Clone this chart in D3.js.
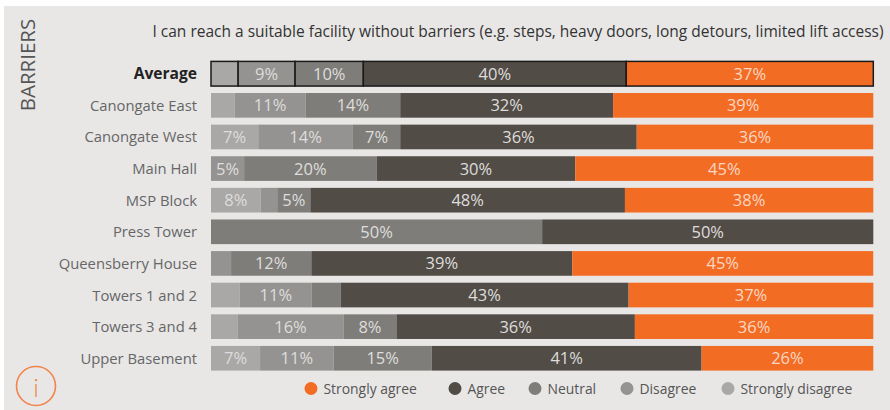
<!DOCTYPE html>
<html><head><meta charset="utf-8">
<script src="https://cdn.jsdelivr.net/npm/d3@7"></script>
<style>
html,body{margin:0;padding:0;background:#fff;}
svg{display:block;}
text{font-family:"Open Sans",sans-serif;}
</style></head><body><svg id="c" width="890" height="410"></svg>
<script>
const categories=["Average","Canongate East","Canongate West","Main Hall","MSP Block","Press Tower","Queensberry House","Towers 1 and 2","Towers 3 and 4","Upper Basement"];
const stackKeys=["Strongly disagree","Disagree","Neutral","Agree","Strongly agree"];
const stronglyDisagree=[4.1,3.57,7.14,0,7.5,0,0,4.35,4,7.41];
const disagree=[8.6,10.71,14.29,5,2.5,0,3.03,10.87,16,11.11];
const neutral=[10.3,14.29,7.14,20,5,50,12.12,4.35,8,14.81];
const agree=[39.7,32.14,35.71,30,47.5,50,39.39,43.48,36,40.74];
const stronglyAgree=[37.3,39.29,35.71,45,37.5,0,45.45,36.96,36,25.93];
const seriesValues=[stronglyDisagree,disagree,neutral,agree,stronglyAgree];
const legendOrder=["Strongly agree","Agree","Neutral","Disagree","Strongly disagree"];
const legendPositions=[311,455,535,627,728];
const colors={"Strongly agree":"#f36c24","Agree":"#524c47","Neutral":"#7f7d7a","Disagree":"#959391","Strongly disagree":"#a9a8a6"};
const title="I can reach a suitable facility without barriers (e.g. steps, heavy doors, long detours, limited lift access)";
const table=categories.map((c,i)=>{const r={category:c};stackKeys.forEach((k,j)=>r[k]=seriesValues[j][i]);return r;});
const stacked=d3.stack().keys(stackKeys)(table);
const svg=d3.select("#c");
svg.append("rect").attr("x",4).attr("y",6).attr("width",886).attr("height",404).attr("fill","#e8e7e6");
const x=d3.scaleLinear().domain([0,100]).range([211,873.3]);
const y=d3.scaleBand().domain(categories).range([61.4,370.6]).paddingInner(0.22).paddingOuter(0);
const labelMin=4.6;
stacked.forEach((s,j)=>{
 s.forEach((d,i)=>{
  const c=categories[i],v=d[1]-d[0];
  if(v<=0)return;
  const x0=x(d[0]),x1=x(d[1]);
  svg.append("rect").attr("x",x0).attr("y",y(c)).attr("width",x1-x0).attr("height",y.bandwidth()).attr("fill",colors[s.key]);
  if(i===0)svg.append("rect").attr("x",x0).attr("y",y(c)).attr("width",x1-x0).attr("height",y.bandwidth())
    .attr("fill","none").attr("stroke","#1a1a1a").attr("stroke-width",1.5);
  if(v>=labelMin)svg.append("text").attr("x",(x0+x1)/2).attr("y",y(c)+y.bandwidth()/2+6)
    .attr("text-anchor","middle").attr("font-size",16.5).attr("fill",j===4?"#fbd6c2":"#dedddb").text(Math.round(v)+"%");
 });
});
categories.forEach((c,i)=>{
 svg.append("text").attr("x",197).attr("y",y(c)+y.bandwidth()/2+5.5).attr("text-anchor","end")
  .attr("font-size",i===0?15.6:14.8).attr("font-weight",i===0?700:400).attr("fill",i===0?"#222":"#666").text(c);
});
svg.append("text").attr("x",518).attr("y",37).attr("text-anchor","middle").attr("font-size",15.5).attr("fill","#333").text(title);
svg.append("text").attr("transform","translate(35,65) rotate(-90)").attr("text-anchor","middle").attr("font-size",20.5).attr("fill","#555").text("BARRIERS");
svg.append("circle").attr("cx",36).attr("cy",386).attr("r",19.5).attr("fill","none").attr("stroke","#f0844a").attr("stroke-width",1.6);
svg.append("text").attr("x",36).attr("y",397).attr("text-anchor","middle").attr("font-size",25).attr("font-weight",300).style("font-family","Lato, sans-serif").attr("fill","#f0844a").text("i");
legendOrder.forEach((k,i)=>{
 svg.append("circle").attr("cx",legendPositions[i]).attr("cy",388.5).attr("r",6.5).attr("fill",colors[k]);
 svg.append("text").attr("x",legendPositions[i]+12.5).attr("y",393.5).attr("font-size",13.9).attr("fill","#555").text(k);
});
</script></body></html>
